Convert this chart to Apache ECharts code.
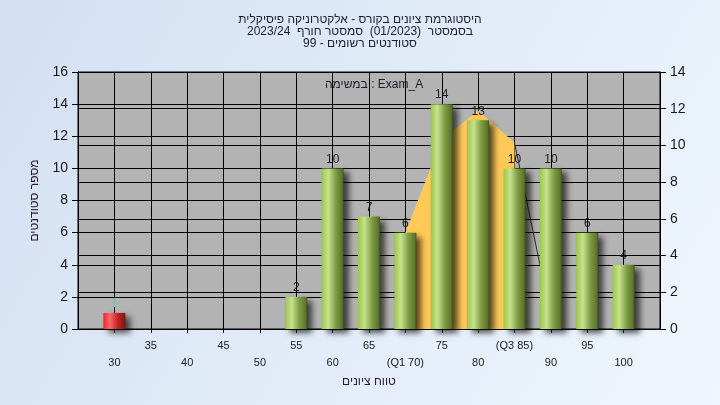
<!DOCTYPE html>
<html>
<head>
<meta charset="utf-8">
<style>
html,body{margin:0;padding:0;}
#c{width:720px;height:405px;}
</style>
<script src="https://cdn.jsdelivr.net/npm/echarts@6/dist/echarts.min.js"></script>
</head>
<body>
<div id="c"></div>
<script>
const titleLines = [
  'היסטוגרמת ציונים בקורס - אלקטרוניקה פיסיקלית',
  'בסמסטר  (01/2023)  סמסטר חורף  2023/24',
  'סטודנטים רשומים - 99'
];
const xAxisName = 'טווח ציונים';
const yAxisName = 'מספר סטודנטים';
const seriesLabel = 'במשימה : Exam_A';

const categories = [30, 35, 40, 45, 50, 55, 60, 65, 70, 75, 80, 85, 90, 95, 100];
const counts     = [1, 0, 0, 0, 0, 2, 10, 7, 6, 14, 13, 10, 10, 6, 4];
const failingCategories = [30];
const specialTickLabels = {70: '(Q1 70)', 85: '(Q3 85)'};

const iqrX = [70, 75, 80, 85];
const iqrY = [6.0, 11.8, 13.6, 11.6];
const tailX = [85, 90];
const tailY = [11.6, 0.75];

const NARROW = '"Liberation Sans Narrow", "Liberation Sans", Arial, sans-serif';

const greenGrad = new echarts.graphic.LinearGradient(0, 0, 1, 0, [
  {offset: 0, color: '#9cc64a'},
  {offset: 0.3, color: '#c6e28c'},
  {offset: 0.65, color: '#7d9a43'},
  {offset: 0.92, color: '#5d772d'},
  {offset: 1, color: '#3e521c'}
]);
const redGrad = new echarts.graphic.LinearGradient(0, 0, 1, 0, [
  {offset: 0, color: '#ff1e1e'},
  {offset: 0.28, color: '#ff6a6a'},
  {offset: 0.65, color: '#c42424'},
  {offset: 1, color: '#7e1414'}
]);

const barData = [];
categories.forEach((c, i) => {
  if (counts[i] > 0) {
    const isFail = failingCategories.indexOf(c) >= 0;
    barData.push({
      value: [c, counts[i]],
      itemStyle: {color: isFail ? redGrad : greenGrad},
      label: isFail ? {color: '#7ab8cc'} : undefined
    });
  }
});

const chart = echarts.init(document.getElementById('c'));
chart.setOption({
  backgroundColor: new echarts.graphic.LinearGradient(0, 0, 1, 1, [
    {offset: 0, color: '#d3e0f2'},
    {offset: 1, color: '#eff6fd'}
  ]),
  animation: false,
  title: {
    text: titleLines.join('\n'),
    left: 'center',
    top: 9,
    textStyle: {fontSize: 12, lineHeight: 12, fontWeight: 'normal', color: '#1c1c34', fontFamily: NARROW}
  },
  grid: {
    left: 78, right: 60, top: 72, bottom: 76,
    show: true, backgroundColor: '#b3b3b3', borderColor: '#000', borderWidth: 1
  },
  graphic: [{
    type: 'text', left: 325, top: 79, z: 10,
    style: {text: seriesLabel, fontSize: 12, fill: '#1a1a2a', fontFamily: NARROW}
  }],
  xAxis: {
    type: 'value', min: 25, max: 105, interval: 5,
    name: xAxisName, nameLocation: 'middle', nameGap: 46,
    nameTextStyle: {fontSize: 12, color: '#2a1a2a', fontFamily: NARROW},
    axisLine: {show: true, lineStyle: {color: '#000', width: 1}},
    axisTick: {show: true, length: 4, lineStyle: {color: '#000'}},
    splitLine: {show: true, lineStyle: {color: '#000', width: 1}},
    axisLabel: {
      showMinLabel: false, showMaxLabel: false, margin: 8,
      fontSize: 11, lineHeight: 17, color: '#1a1a1a', fontFamily: NARROW,
      formatter: function (v) {
        const t = specialTickLabels[v] !== undefined ? specialTickLabels[v] : String(v);
        return (v % 10 === 0) ? '\n' + t : t;
      }
    }
  },
  yAxis: [{
    type: 'value', min: 0, max: 16, interval: 2, position: 'left',
    name: yAxisName, nameLocation: 'middle', nameGap: 37, nameRotate: 90,
    nameTextStyle: {fontSize: 12, color: '#2a1a2a', fontFamily: NARROW},
    axisLine: {show: true, lineStyle: {color: '#000'}},
    axisTick: {show: true, length: 6, lineStyle: {color: '#000'}},
    splitLine: {show: true, lineStyle: {color: '#000', width: 1}},
    axisLabel: {fontSize: 14, margin: 10, color: '#1a1a1a', fontFamily: NARROW}
  }, {
    type: 'value', min: 0, max: 14, interval: 2, position: 'right',
    axisLine: {show: true, lineStyle: {color: '#000'}},
    axisTick: {show: true, length: 6, lineStyle: {color: '#000'}},
    splitLine: {show: true, lineStyle: {color: '#000', width: 1}},
    axisLabel: {fontSize: 14, margin: 10, color: '#1a1a1a', fontFamily: NARROW}
  }],
  series: [{
    type: 'line', z: 1, yAxisIndex: 0,
    data: iqrX.map((x, i) => [x, iqrY[i]]),
    symbol: 'none', lineStyle: {width: 0},
    areaStyle: {color: '#ffca58', opacity: 1}
  }, {
    type: 'line', z: 2, yAxisIndex: 0,
    data: tailX.map((x, i) => [x, tailY[i]]),
    symbol: 'none', lineStyle: {width: 1, color: '#2a2a2a'}
  }, {
    type: 'bar', z: 3, yAxisIndex: 0, barWidth: 22,
    data: barData,
    itemStyle: {shadowColor: 'rgba(0,0,0,0.65)', shadowBlur: 6, shadowOffsetX: 5, shadowOffsetY: 4},
    label: {show: true, position: 'top', distance: 3, fontSize: 12, color: '#1a1a1a', fontFamily: NARROW,
      formatter: p => String(p.value[1])}
  }]
});
</script>
</body>
</html>
